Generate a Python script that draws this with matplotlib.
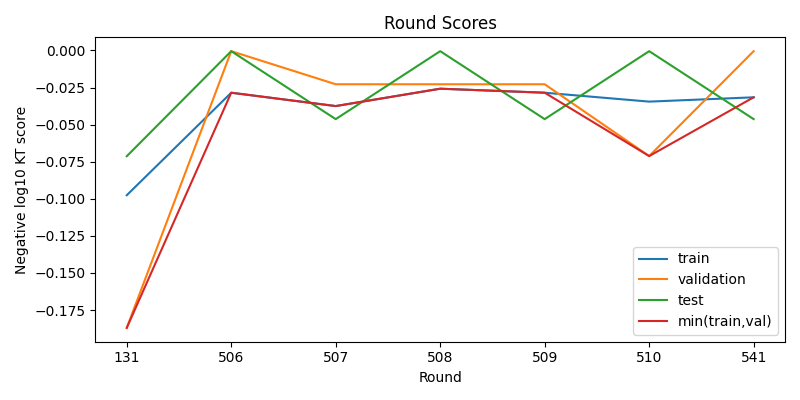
import matplotlib
matplotlib.use("Agg")
import matplotlib.pyplot as plt

# --- Data ---
rounds = ["131", "506", "507", "508", "509", "510", "541"]
train = [-0.0976, -0.0285, -0.0375, -0.0258, -0.0285, -0.0345, -0.0316]
validation = [-0.187, -0.0005, -0.0228, -0.0228, -0.0228, -0.0712, -0.0005]
test = [-0.0713, -0.0005, -0.0463, -0.0005, -0.0463, -0.0005, -0.0463]
min_train_val = [-0.187, -0.0285, -0.0375, -0.0258, -0.0285, -0.0712, -0.0316]

# --- Plotting ---
fig, ax = plt.subplots(figsize=(8, 4), dpi=100)
ax.plot(rounds, train, label="train")
ax.plot(rounds, validation, label="validation")
ax.plot(rounds, test, label="test")
ax.plot(rounds, min_train_val, label="min(train,val)")
ax.set_xlabel("Round")
ax.set_ylabel("Negative log10 KT score")
ax.set_title("Round Scores")
ax.legend(loc="lower right")
plt.tight_layout()
plt.savefig("out.png")
